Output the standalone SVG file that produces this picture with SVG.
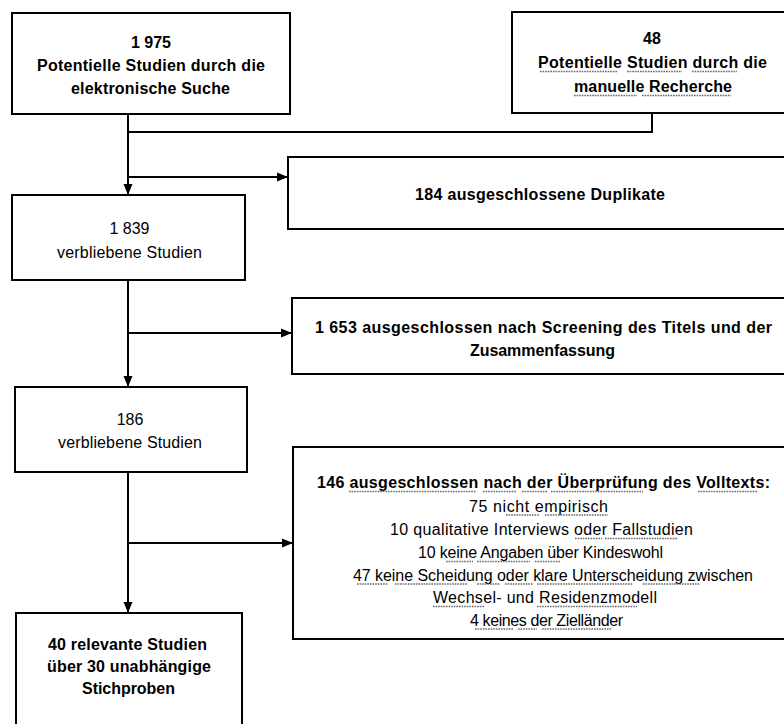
<svg xmlns="http://www.w3.org/2000/svg" width="784" height="724" viewBox="0 0 784 724">
<style>
  .box { fill: #ffffff; stroke: #000000; stroke-width: 2; }
  .conn { fill: none; stroke: #000000; stroke-width: 2; }
  .ul { fill: none; stroke: #6a6a6a; stroke-width: 1.3; stroke-dasharray: 1.6 1; }
  text { font-family: "Liberation Sans", Arial, sans-serif; font-size: 16px; fill: #000000; text-anchor: middle; }
  .b { font-weight: bold; }
</style>
<defs>
  <marker id="arr" markerUnits="userSpaceOnUse" markerWidth="12" markerHeight="10" refX="11" refY="5" orient="auto">
    <path d="M0,0.5 L11,5 L0,9.5 z" fill="#000000"/>
  </marker>
</defs>
<rect width="784" height="724" fill="#ffffff"/>

<g id="connectors">
  <path class="conn" d="M652,113 V132 H128"/>
  <path class="conn" d="M128,114 V195" marker-end="url(#arr)"/>
  <path class="conn" d="M128,177 H288" marker-end="url(#arr)"/>
  <path class="conn" d="M128,280 V387" marker-end="url(#arr)"/>
  <path class="conn" d="M128,333 H292" marker-end="url(#arr)"/>
  <path class="conn" d="M128,472 V613" marker-end="url(#arr)"/>
  <path class="conn" d="M128,543 H293" marker-end="url(#arr)"/>
</g>

<g id="n1">
  <rect class="box" x="12" y="13" width="278" height="101"/>
  <text class="b" x="151" y="48">1 975</text>
  <text class="b" x="151" y="71" textLength="228">Potentielle Studien durch die</text>
  <text class="b" x="150.5" y="94" textLength="159">elektronische Suche</text>
</g>

<g id="n48">
  <rect class="box" x="512" y="12" width="290" height="101"/>
  <text class="b" x="652" y="44">48</text>
  <text class="b" x="652.5" y="68" textLength="229"><tspan>Potentielle</tspan> <tspan>Studien</tspan> <tspan>durch</tspan> die</text>
  <text class="b" x="653" y="92" textLength="158"><tspan>manuelle</tspan> <tspan>Recherche</tspan></text>
  <path class="ul" d="M540,71.5 H617 M627,71.5 H682 M692,71.5 H737 M574,95.5 H637 M642,95.5 H731"/>
</g>

<g id="ndup">
  <rect class="box" x="288" y="157" width="510" height="72"/>
  <text class="b" x="540" y="200" textLength="250">184 ausgeschlossene Duplikate</text>
</g>

<g id="n1839">
  <rect class="box" x="12" y="195" width="233" height="85"/>
  <text x="129.5" y="234">1 839</text>
  <text x="129.5" y="258" textLength="145">verbliebene Studien</text>
</g>

<g id="n1653">
  <rect class="box" x="292" y="298" width="506" height="76"/>
  <text class="b" x="543.5" y="333" textLength="457">1 653 ausgeschlossen  nach Screening des Titels und  der</text>
  <text class="b" x="542.5" y="356" textLength="145">Zusammenfassung</text>
</g>

<g id="n186">
  <rect class="box" x="15" y="387" width="232" height="85"/>
  <text x="130" y="425">186</text>
  <text x="130" y="448" textLength="144">verbliebene Studien</text>
</g>

<g id="n146">
  <rect class="box" x="293" y="447" width="505" height="192"/>
  <text class="b" x="543.5" y="488" textLength="453">146 <tspan>ausgeschlossen</tspan>  <tspan>nach</tspan> <tspan>der</tspan> <tspan>Überprüfung</tspan> des <tspan>Volltexts:</tspan></text>
  <text x="538.5" y="511.5" textLength="139">75 <tspan>nicht</tspan> <tspan>empirisch</tspan></text>
  <text x="541.5" y="535" textLength="303">10 qualitative  Interviews <tspan>oder</tspan> <tspan>Fallstudien</tspan></text>
  <text x="540.5" y="558" textLength="245">10 <tspan>keine</tspan> <tspan>Angaben</tspan> <tspan>über</tspan> Kindeswohl</text>
  <text x="553" y="580.5" textLength="400">47 <tspan>keine</tspan> <tspan>Scheidung</tspan> <tspan>oder</tspan> <tspan>klare</tspan> <tspan>Unterscheidung</tspan> <tspan>zwischen</tspan></text>
  <text x="545" y="603" textLength="224"><tspan>Wechsel-</tspan> und <tspan>Residenzmodell</tspan></text>
  <text x="546.5" y="625.5" textLength="153">4 <tspan>keines</tspan> <tspan>der</tspan> <tspan>Zielländer</tspan></text>
  <path class="ul" d="M349,491.5 H476 M483,491.5 H516 M522,491.5 H547 M551,491.5 H643 M698,491.5 H758
                     M506,515 H539 M545,515 H608
                     M575,538.5 H602 M605,538.5 H678
                     M446,561.5 H473 M477,561.5 H530 M535,561.5 H560
                     M357,584 H388 M395,584 H468 M477,584 H500 M505,584 H533 M537,584 H633 M643,584 H700
                     M433,606.5 H485 M537,606.5 H637
                     M475,629 H513 M518,629 H537 M542,629 H612"/>
</g>

<g id="n40">
  <rect class="box" x="16" y="613" width="226" height="130"/>
  <text class="b" x="127.5" y="650" textLength="159">40 relevante  Studien</text>
  <text class="b" x="129" y="672" textLength="164">über 30 unabhängige</text>
  <text class="b" x="128.5" y="694" textLength="93">Stichproben</text>
</g>
</svg>
